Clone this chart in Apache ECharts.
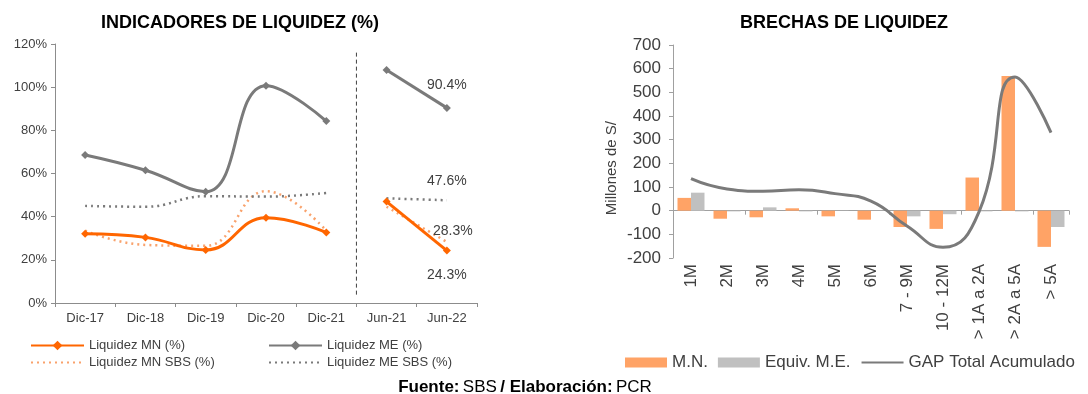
<!DOCTYPE html>
<html lang="es">
<head>
    <meta charset="UTF-8">
    <title>Liquidez</title>
    <script src="https://cdn.jsdelivr.net/npm/echarts@6/dist/echarts.min.js"></script>
    <style>
        body { margin: 0; background: #fff; }
    </style>
</head>
<body>
    <div id="ec" style="width:1088px;height:394px"></div>
</body>
<script>
    // indicadores de liquidez (%)
    var leftCats = ['Dic-17', 'Dic-18', 'Dic-19', 'Dic-20', 'Dic-21', 'Jun-21', 'Jun-22']
    var liqMN = [32.1, 30.4, 24.6, 39.5, 32.7, 47.0, 24.3]
    var liqME = [68.6, 61.5, 51.6, 100.7, 84.3, 108.0, 90.4]
    var liqMNsbs = [33.5, 26.9, 26.5, 51.8, 33.5, 44.6, 28.3]
    var liqMEsbs = [45.0, 44.6, 49.5, 49.3, 51.0, 48.5, 47.6]
    var splitAt = 5

    // brechas de liquidez (millones de S/)
    var gapCats = ['1M', '2M', '3M', '4M', '5M', '6M', '7 - 9M', '10 - 12M', '> 1A a 2A', '> 2A a 5A', '> 5A']
    var gapMN = [54, -34, -28, 10, -24, -38, -69, -77, 140, 569, -153]
    var gapME = [76, -3, 14, -3, -1, -1, -24, -15, -3, -3, -69]
    var gapTotal = [135, 92, 82, 88, 72, 40, -65, -155, -5, 565, 330]

    var font = 'Liberation Sans, Arial, sans-serif'
    var txt = '#404040'

    // labels for the last point of each series
    var lastLabel = {
        'Liquidez MN (%)': { position: 'bottom', distance: 14 },
        'Liquidez ME (%)': { position: 'top', distance: 12 },
        'Liquidez MN SBS (%)': { position: 'top', distance: 4, offset: [6, 0] },
        'Liquidez ME SBS (%)': { position: 'top', distance: 12 }
    }

    function splitSeries(name, values, style) {
        var first = values.map(function (v, i) { return i < splitAt ? v : null })
        var second = values.map(function (v, i) {
            if (i < splitAt) return null
            if (i == values.length - 1) {
                var lb = lastLabel[name]
                return {
                    value: v,
                    label: {
                        show: true, position: lb.position, distance: lb.distance, offset: lb.offset || [0, 0],
                        formatter: v.toFixed(1) + '%', color: txt, fontSize: 14, fontFamily: font
                    }
                }
            }
            return v
        })
        var base = function (data) {
            return Object.assign({
                name: name, type: 'line', xAxisIndex: 0, yAxisIndex: 0,
                smooth: 0.45, data: data, connectNulls: false, silent: true
            }, style)
        }
        return [base(first), base(second)]
    }

    var mnStyle = { color: '#ff6600', symbol: 'diamond', symbolSize: 8, lineStyle: { width: 3, color: '#ff6600' }, z: 4 }
    var meStyle = { color: '#7a7a7a', symbol: 'diamond', symbolSize: 8, lineStyle: { width: 3, color: '#7a7a7a' }, z: 3 }
    var mnSbsStyle = { color: '#f9a26c', symbol: 'circle', symbolSize: 0, lineStyle: { width: 2.5, type: [2, 4], color: '#f9a26c' }, z: 2 }
    var meSbsStyle = { color: '#7a7a7a', symbol: 'circle', symbolSize: 0, lineStyle: { width: 2.5, type: [2, 4], color: '#7a7a7a' }, z: 2 }

    var leftSeries = [].concat(
        splitSeries('Liquidez MN (%)', liqMN, mnStyle),
        splitSeries('Liquidez ME (%)', liqME, meStyle),
        splitSeries('Liquidez MN SBS (%)', liqMNsbs, mnSbsStyle),
        splitSeries('Liquidez ME SBS (%)', liqMEsbs, meSbsStyle)
    )

    var ech = document.getElementById('ec')
    var mychart = echarts.init(ech)
    var options = {
        animation: false,
        textStyle: { fontFamily: font },
        title: [
            { text: 'INDICADORES DE LIQUIDEZ (%)', left: 235, top: 9, textAlign: 'center',
              textStyle: { fontSize: 18, fontWeight: 'bold', color: '#000', fontFamily: font } },
            { text: 'BRECHAS DE LIQUIDEZ', left: 839, top: 9, textAlign: 'center',
              textStyle: { fontSize: 18, fontWeight: 'bold', color: '#000', fontFamily: font } }
        ],
        legend: [
            {
                left: 25, top: 334, orient: 'vertical', itemWidth: 53, itemHeight: 12, itemGap: 4,
                textStyle: { fontSize: 13, color: txt, fontFamily: font },
                data: ['Liquidez MN (%)', { name: 'Liquidez MN SBS (%)', itemStyle: { opacity: 0 } }]
            },
            {
                left: 263, top: 334, orient: 'vertical', itemWidth: 53, itemHeight: 12, itemGap: 4,
                textStyle: { fontSize: 13, color: txt, fontFamily: font },
                data: ['Liquidez ME (%)', { name: 'Liquidez ME SBS (%)', itemStyle: { opacity: 0 } }]
            },
            {
                left: 625, top: 354, padding: 0, orient: 'horizontal', itemWidth: 42, itemHeight: 10, itemGap: 10,
                textStyle: { fontSize: 17, color: txt, fontFamily: font },
                data: [
                    { name: 'M.N.', icon: 'rect' },
                    { name: 'Equiv. M.E.', icon: 'rect' },
                    { name: 'GAP Total Acumulado', itemStyle: { opacity: 0 } }
                ]
            }
        ],
        grid: [
            { left: 55, right: 611, top: 44, bottom: 91 },
            { left: 673, right: 19, top: 45, bottom: 136 }
        ],
        xAxis: [
            {
                type: 'category', gridIndex: 0, data: leftCats,
                axisLine: { lineStyle: { color: '#8c8c8c' } },
                axisTick: { show: true, length: 4, lineStyle: { color: '#8c8c8c' } },
                axisLabel: { color: txt, fontSize: 13, margin: 9 }
            },
            {
                type: 'category', gridIndex: 1, data: gapCats,
                axisLine: { show: false, onZero: false }, axisTick: { show: false },
                axisLabel: { color: txt, fontSize: 17, rotate: 90, margin: 6, interval: 0 }
            },
            {
                type: 'category', gridIndex: 1, data: gapCats,
                axisLine: { show: true, onZero: true, onZeroAxisIndex: 1, lineStyle: { color: '#a0a0a0' } },
                axisTick: { show: true, inside: true, length: 4, lineStyle: { color: '#a0a0a0' } },
                axisLabel: { show: false }
            }
        ],
        yAxis: [
            {
                type: 'value', gridIndex: 0, min: 0, max: 120, interval: 20,
                axisLine: { show: true, lineStyle: { color: '#8c8c8c' } },
                axisTick: { show: true, length: 4, lineStyle: { color: '#8c8c8c' } },
                splitLine: { show: false },
                axisLabel: { formatter: '{value}%', color: txt, fontSize: 13, margin: 8 }
            },
            {
                type: 'value', gridIndex: 1, min: -200, max: 700, interval: 100,
                axisLine: { show: true, lineStyle: { color: '#a0a0a0' } },
                axisTick: { show: true, length: 4, lineStyle: { color: '#a0a0a0' } },
                splitLine: { show: false },
                axisLabel: { color: txt, fontSize: 17, margin: 12 }
            }
        ],
        series: leftSeries.concat([
            {
                name: 'M.N.', type: 'bar', xAxisIndex: 1, yAxisIndex: 1, data: gapMN,
                color: '#ffa366', barGap: '0%', barCategoryGap: '25%', silent: true
            },
            {
                name: 'Equiv. M.E.', type: 'bar', xAxisIndex: 1, yAxisIndex: 1, data: gapME,
                color: '#c0c0c0', barGap: '0%', barCategoryGap: '25%', silent: true
            },
            {
                name: 'GAP Total Acumulado', type: 'line', xAxisIndex: 1, yAxisIndex: 1, data: gapTotal,
                color: '#7a7a7a', smooth: 0.5, symbol: 'none', lineStyle: { width: 3, color: '#7a7a7a' },
                silent: true, z: 5
            }
        ])
    }

    mychart.setOption(options)

    // dashed separator between annual and semiannual data, footer, y axis name
    var xa = mychart.convertToPixel({ xAxisIndex: 0 }, leftCats[splitAt - 1])
    var xb = mychart.convertToPixel({ xAxisIndex: 0 }, leftCats[splitAt])
    var yTop = mychart.convertToPixel({ yAxisIndex: 0 }, 116)
    var yBot = mychart.convertToPixel({ yAxisIndex: 0 }, 3)
    var yMid = mychart.convertToPixel({ yAxisIndex: 1 }, 180)

    mychart.setOption({
        graphic: [
            {
                type: 'line', silent: true,
                shape: { x1: (xa + xb) / 2, y1: yTop, x2: (xa + xb) / 2, y2: yBot },
                style: { stroke: '#404040', lineWidth: 1, lineDash: [4, 3] }
            },
            {
                type: 'text', silent: true, x: 612, y: yMid, rotation: Math.PI / 2,
                style: { text: 'Millones de S/', fontSize: 15, fill: txt, fontFamily: font,
                         align: 'center', verticalAlign: 'middle' }
            },
            {
                type: 'text', silent: true, x: 525, y: 387,
                style: {
                    text: '{b|Fuente:} {n|SBS} {b|/ Elaboración:} {n|PCR}',
                    align: 'center', verticalAlign: 'middle',
                    rich: {
                        b: { fontWeight: 'bold', fontSize: 17, fill: '#000', fontFamily: font },
                        n: { fontSize: 17, fill: '#000', fontFamily: font }
                    }
                }
            }
        ]
    })
</script>
</html>
